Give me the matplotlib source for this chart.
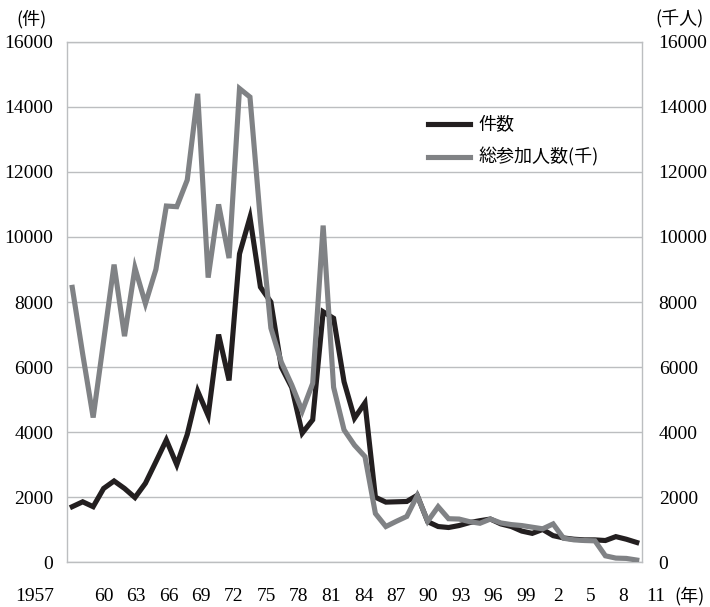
import numpy as np
import matplotlib.pyplot as plt

years = list(range(1957, 2012))

# 件数 (number of disputes)
disputes = [1710, 1860, 1710, 2270, 2500, 2270, 1990, 2430, 3090, 3760,
            3000, 3930, 5260, 4510, 7000, 5590, 9480, 10600, 8460, 8000,
            6000, 5370, 3970, 4380, 7700, 7500, 5550, 4430, 4900, 2000,
            1850, 1860, 1870, 2060, 1250, 1100, 1070, 1130, 1220, 1280,
            1330, 1180, 1100, 960, 890, 1010, 820, 750, 710, 690,
            690, 670, 790, 710, 610]

# 総参加人数 (total participants, thousands)
participants = [8450, 6400, 4450, 6800, 9150, 6950, 9050, 7950, 9000, 10950,
                10930, 11750, 14400, 8750, 11000, 9350, 14560, 14300, 10500, 7200,
                6150, 5450, 4650, 5500, 10350, 5380, 4070, 3600, 3250, 1500,
                1100, 1260, 1410, 2050, 1260, 1710, 1340, 1330, 1250, 1200,
                1330, 1210, 1160, 1130, 1080, 1030, 1180, 740, 690, 670,
                660, 200, 130, 120, 70]

tick_labels = ['1957', '60', '63', '66', '69', '72', '75', '78', '81', '84',
               '87', '90', '93', '96', '99', '2', '5', '8', '11']

num_font = 'Liberation Serif'
jp_font = ['Noto Sans CJK JP', 'DejaVu Sans']

fig = plt.figure(figsize=(7.10, 6.07), dpi=100)
ax = fig.add_axes([0.0944, 0.0736, 0.8098, 0.8577])

ax.plot(years, disputes, color='#231f20', lw=3.7, solid_joinstyle='miter', label='件数', zorder=3)
ax.plot(years, participants, color='#808285', lw=3.7, solid_joinstyle='miter', label='総参加人数(千)', zorder=4)

ax.set_xlim(1956.5, 2011.5)
ax.set_ylim(0, 16000)
ax.set_yticks(np.arange(0, 16001, 2000))
ax.grid(axis='y', color='#bcbec0', lw=1.0)
ax.set_axisbelow(True)
for s in ax.spines.values():
    s.set_color('#bcbec0')
    s.set_linewidth(1.0)
ax.tick_params(length=0)
ax.set_xticks([])
ax.set_yticklabels([str(v) for v in range(0, 16001, 2000)], fontfamily=num_font, fontsize=14)
ax.tick_params(axis='y', pad=10)

ax2 = ax.twinx()
ax2.set_ylim(0, 16000)
ax2.set_yticks(np.arange(0, 16001, 2000))
ax2.set_yticklabels([str(v) for v in range(0, 16001, 2000)], fontfamily=num_font, fontsize=14)
ax2.tick_params(length=0, pad=12)
for s in ax2.spines.values():
    s.set_visible(False)

# x labels are typeset as a row of text under the axis, as in the original
ax.text(-0.056, -0.065, tick_labels[0], transform=ax.transAxes, ha='center', va='center',
        fontfamily=num_font, fontsize=14)
xpos = np.linspace(0.064, 1.024, len(tick_labels) - 1)
for x, t in zip(xpos, tick_labels[1:]):
    ax.text(x, -0.065, t, transform=ax.transAxes, ha='center', va='center',
            fontfamily=num_font, fontsize=14)
ax.text(1.082, -0.065, '(年)', transform=ax.transAxes, ha='center', va='center',
        fontfamily=jp_font, fontsize=13)

fig.text(0.045, 0.968, '(件)', ha='center', va='center', fontfamily=jp_font, fontsize=13)
fig.text(0.957, 0.968, '(千人)', ha='center', va='center', fontfamily=jp_font, fontsize=13)

leg = ax.legend(loc='upper left', bbox_to_anchor=(0.6, 0.888), frameon=False,
                prop={'family': jp_font, 'size': 13}, handlelength=2.3,
                labelspacing=0.75, handletextpad=0.5)

fig.savefig('out.png', dpi=100)
